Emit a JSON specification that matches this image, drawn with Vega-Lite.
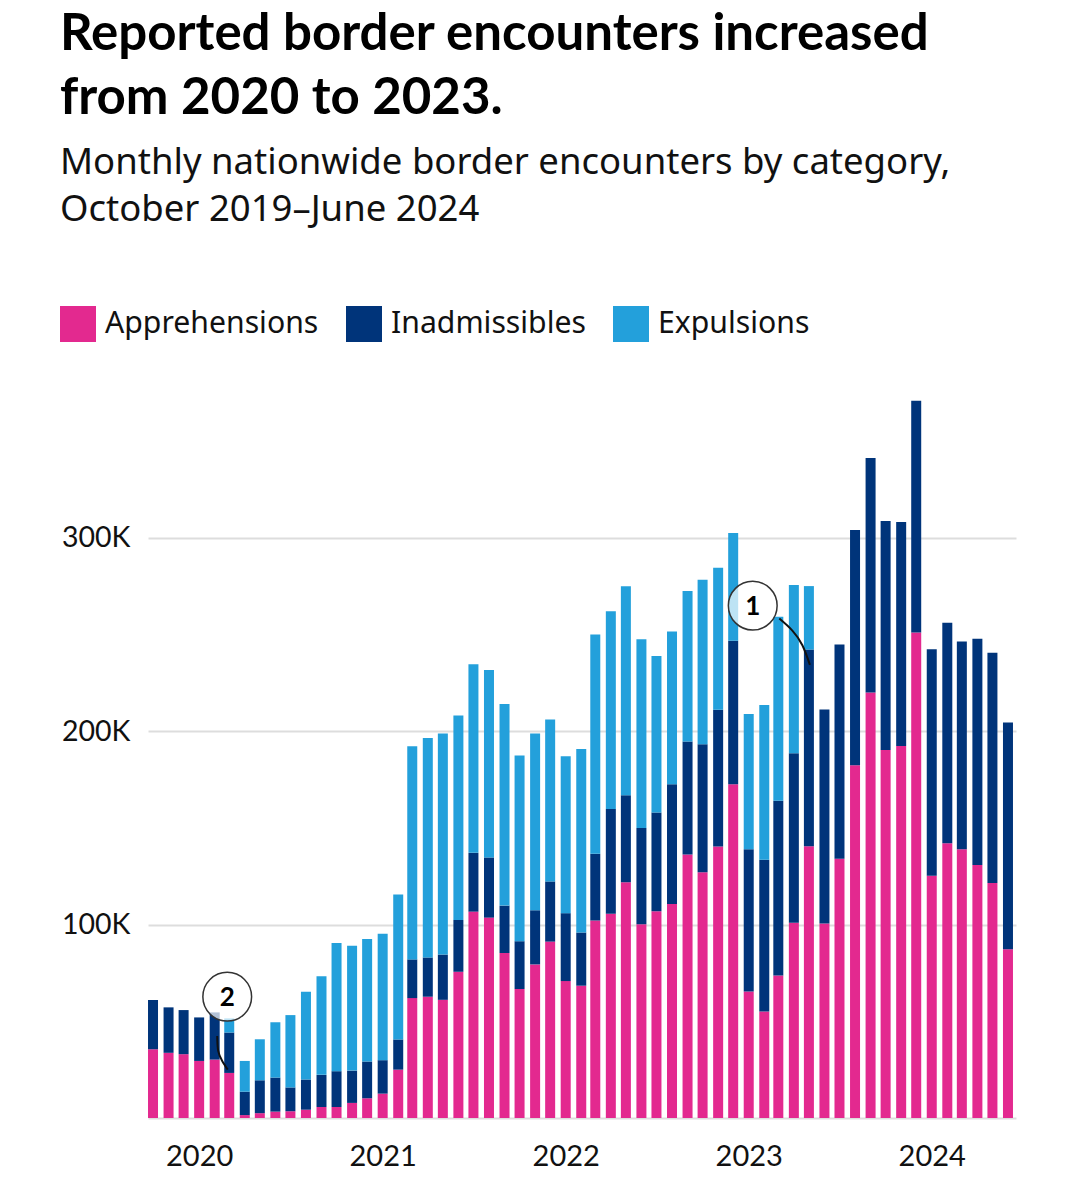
{
  "$schema": "https://vega.github.io/schema/vega-lite/v6.json",
  "width": 868,
  "height": 735,
  "padding": {"left": 60, "top": 8, "right": 10, "bottom": 10},
  "background": "white",
  "config": {
    "font": "Lato",
    "view": {"stroke": null},
    "axis": {"labelFont": "Lato", "labelColor": "#111", "title": null}
  },
  "title": {
    "text": ["Reported border encounters increased", "from 2020 to 2023."],
    "subtitle": ["Monthly nationwide border encounters by category,", "October 2019–June 2024"],
    "anchor": "start",
    "frame": "bounds",
    "font": "Lato",
    "fontSize": 51,
    "fontWeight": "bold",
    "lineHeight": 64,
    "color": "#000",
    "subtitleFont": "Noto Sans",
    "subtitleFontSize": 36.5,
    "subtitleLineHeight": 47,
    "subtitlePadding": 20,
    "subtitleColor": "#111",
    "offset": 77
  },
  "datasets": {
    "monthly": [
      {"month": "2019-10-01", "Apprehensions": 35600, "Inadmissibles": 25400, "Expulsions": 0},
      {"month": "2019-11-01", "Apprehensions": 33700, "Inadmissibles": 23500, "Expulsions": 0},
      {"month": "2019-12-01", "Apprehensions": 33000, "Inadmissibles": 22800, "Expulsions": 0},
      {"month": "2020-01-01", "Apprehensions": 29500, "Inadmissibles": 22500, "Expulsions": 0},
      {"month": "2020-02-01", "Apprehensions": 30200, "Inadmissibles": 24400, "Expulsions": 0},
      {"month": "2020-03-01", "Apprehensions": 23300, "Inadmissibles": 20900, "Expulsions": 7300},
      {"month": "2020-04-01", "Apprehensions": 1500, "Inadmissibles": 12100, "Expulsions": 15900},
      {"month": "2020-05-01", "Apprehensions": 2500, "Inadmissibles": 17000, "Expulsions": 21200},
      {"month": "2020-06-01", "Apprehensions": 3300, "Inadmissibles": 17600, "Expulsions": 28600},
      {"month": "2020-07-01", "Apprehensions": 3500, "Inadmissibles": 12300, "Expulsions": 37400},
      {"month": "2020-08-01", "Apprehensions": 4300, "Inadmissibles": 15600, "Expulsions": 45400},
      {"month": "2020-09-01", "Apprehensions": 5700, "Inadmissibles": 16600, "Expulsions": 51000},
      {"month": "2020-10-01", "Apprehensions": 5700, "Inadmissibles": 18500, "Expulsions": 66300},
      {"month": "2020-11-01", "Apprehensions": 7800, "Inadmissibles": 16700, "Expulsions": 64500},
      {"month": "2020-12-01", "Apprehensions": 10200, "Inadmissibles": 19000, "Expulsions": 63400},
      {"month": "2021-01-01", "Apprehensions": 12600, "Inadmissibles": 17300, "Expulsions": 65300},
      {"month": "2021-02-01", "Apprehensions": 25000, "Inadmissibles": 15600, "Expulsions": 74900},
      {"month": "2021-03-01", "Apprehensions": 62000, "Inadmissibles": 20000, "Expulsions": 110200},
      {"month": "2021-04-01", "Apprehensions": 62700, "Inadmissibles": 20300, "Expulsions": 113500},
      {"month": "2021-05-01", "Apprehensions": 61100, "Inadmissibles": 23400, "Expulsions": 114300},
      {"month": "2021-06-01", "Apprehensions": 75600, "Inadmissibles": 26800, "Expulsions": 105700},
      {"month": "2021-07-01", "Apprehensions": 106700, "Inadmissibles": 30400, "Expulsions": 97500},
      {"month": "2021-08-01", "Apprehensions": 103600, "Inadmissibles": 31100, "Expulsions": 96900},
      {"month": "2021-09-01", "Apprehensions": 85300, "Inadmissibles": 24500, "Expulsions": 104200},
      {"month": "2021-10-01", "Apprehensions": 66700, "Inadmissibles": 24700, "Expulsions": 96000},
      {"month": "2021-11-01", "Apprehensions": 79400, "Inadmissibles": 28000, "Expulsions": 91400},
      {"month": "2021-12-01", "Apprehensions": 91200, "Inadmissibles": 31100, "Expulsions": 83700},
      {"month": "2022-01-01", "Apprehensions": 70800, "Inadmissibles": 35100, "Expulsions": 81100},
      {"month": "2022-02-01", "Apprehensions": 68400, "Inadmissibles": 27500, "Expulsions": 94900},
      {"month": "2022-03-01", "Apprehensions": 102100, "Inadmissibles": 34500, "Expulsions": 113400},
      {"month": "2022-04-01", "Apprehensions": 105600, "Inadmissibles": 54200, "Expulsions": 102200},
      {"month": "2022-05-01", "Apprehensions": 121900, "Inadmissibles": 44900, "Expulsions": 108100},
      {"month": "2022-06-01", "Apprehensions": 100200, "Inadmissibles": 49700, "Expulsions": 97600},
      {"month": "2022-07-01", "Apprehensions": 106900, "Inadmissibles": 51000, "Expulsions": 80900},
      {"month": "2022-08-01", "Apprehensions": 110700, "Inadmissibles": 61900, "Expulsions": 78900},
      {"month": "2022-09-01", "Apprehensions": 136200, "Inadmissibles": 58400, "Expulsions": 77800},
      {"month": "2022-10-01", "Apprehensions": 127000, "Inadmissibles": 66200, "Expulsions": 85100},
      {"month": "2022-11-01", "Apprehensions": 140400, "Inadmissibles": 70700, "Expulsions": 73400},
      {"month": "2022-12-01", "Apprehensions": 172600, "Inadmissibles": 74100, "Expulsions": 55700},
      {"month": "2023-01-01", "Apprehensions": 65400, "Inadmissibles": 73600, "Expulsions": 69900},
      {"month": "2023-02-01", "Apprehensions": 55100, "Inadmissibles": 78400, "Expulsions": 80000},
      {"month": "2023-03-01", "Apprehensions": 73700, "Inadmissibles": 90300, "Expulsions": 95100},
      {"month": "2023-04-01", "Apprehensions": 101000, "Inadmissibles": 87600, "Expulsions": 87000},
      {"month": "2023-05-01", "Apprehensions": 140500, "Inadmissibles": 101700, "Expulsions": 32800},
      {"month": "2023-06-01", "Apprehensions": 100500, "Inadmissibles": 110700, "Expulsions": 0},
      {"month": "2023-07-01", "Apprehensions": 134000, "Inadmissibles": 110800, "Expulsions": 0},
      {"month": "2023-08-01", "Apprehensions": 182400, "Inadmissibles": 121600, "Expulsions": 0},
      {"month": "2023-09-01", "Apprehensions": 220000, "Inadmissibles": 121200, "Expulsions": 0},
      {"month": "2023-10-01", "Apprehensions": 190200, "Inadmissibles": 118500, "Expulsions": 0},
      {"month": "2023-11-01", "Apprehensions": 192300, "Inadmissibles": 115900, "Expulsions": 0},
      {"month": "2023-12-01", "Apprehensions": 251000, "Inadmissibles": 119800, "Expulsions": 0},
      {"month": "2024-01-01", "Apprehensions": 125300, "Inadmissibles": 117000, "Expulsions": 0},
      {"month": "2024-02-01", "Apprehensions": 142000, "Inadmissibles": 114000, "Expulsions": 0},
      {"month": "2024-03-01", "Apprehensions": 139000, "Inadmissibles": 107300, "Expulsions": 0},
      {"month": "2024-04-01", "Apprehensions": 130800, "Inadmissibles": 117000, "Expulsions": 0},
      {"month": "2024-05-01", "Apprehensions": 121500, "Inadmissibles": 119000, "Expulsions": 0},
      {"month": "2024-06-01", "Apprehensions": 87300, "Inadmissibles": 117200, "Expulsions": 0}
    ],
    "connectors": [
      {"note": "1", "date": "2023-03-03", "value": 258200},
      {"note": "1", "date": "2023-03-29", "value": 252000},
      {"note": "1", "date": "2023-04-18", "value": 244400},
      {"note": "1", "date": "2023-05-03", "value": 234300},
      {"note": "2", "date": "2020-02-06", "value": 42400},
      {"note": "2", "date": "2020-02-08", "value": 34700},
      {"note": "2", "date": "2020-02-16", "value": 29500},
      {"note": "2", "date": "2020-02-27", "value": 25000}
    ],
    "notes": [
      {"note": "1", "date": "2023-01-09", "value": 264900},
      {"note": "2", "date": "2020-02-26", "value": 62700}
    ]
  },
  "layer": [
    {
      "data": {"name": "monthly"},
      "transform": [
        {"fold": ["Apprehensions", "Inadmissibles", "Expulsions"], "as": ["category", "count"]},
        {"calculate": "indexof(['Apprehensions','Inadmissibles','Expulsions'], datum.category)", "as": "stackOrder"}
      ],
      "mark": {"type": "bar", "width": 10},
      "encoding": {
        "x": {
          "field": "month", "type": "temporal",
          "scale": {"type": "utc", "padding": 0, "domain": [{"year": 2019, "month": 9, "date": 21, "utc": true}, {"year": 2024, "month": 6, "date": 17, "utc": true}]},
          "axis": {
            "values": [
              {"year": 2020, "month": 1, "date": 1, "utc": true},
              {"year": 2021, "month": 1, "date": 1, "utc": true},
              {"year": 2022, "month": 1, "date": 1, "utc": true},
              {"year": 2023, "month": 1, "date": 1, "utc": true},
              {"year": 2024, "month": 1, "date": 1, "utc": true}
            ],
            "format": "%Y", "formatType": "utc",
            "labelFontSize": 29, "labelPadding": 24, "ticks": false, "domain": false, "grid": false
          }
        },
        "y": {
          "field": "count", "type": "quantitative", "stack": "zero",
          "scale": {"domain": [0, 380000], "nice": false},
          "axis": {
            "values": [0, 100000, 200000, 300000],
            "labelExpr": "datum.value == 0 ? '' : (datum.value / 1000) + 'K'",
            "labelFontSize": 28.5, "labelPadding": 18, "ticks": false, "domain": false,
            "grid": true, "gridColor": "#dddddd", "gridWidth": 2
          }
        },
        "color": {
          "field": "category", "type": "nominal",
          "scale": {"domain": ["Apprehensions", "Inadmissibles", "Expulsions"], "range": ["#E3298F", "#00347A", "#23A0DB"]},
          "legend": {
            "title": null, "orient": "none", "legendX": -88, "legendY": -77, "direction": "horizontal",
            "symbolType": "square", "symbolSize": 1296, "symbolStrokeWidth": 0, "symbolOpacity": 1,
            "labelFontSize": 30.2, "labelFont": "Noto Sans", "labelColor": "#111", "labelOffset": 9,
            "columnPadding": 27, "labelLimit": 400
          }
        },
        "order": {"field": "stackOrder", "type": "quantitative"}
      }
    },
    {
      "data": {"name": "connectors"},
      "mark": {"type": "line", "interpolate": "natural", "color": "#111", "strokeWidth": 2},
      "encoding": {
        "x": {"field": "date", "type": "temporal"},
        "y": {"field": "value", "type": "quantitative"},
        "detail": {"field": "note"}
      }
    },
    {
      "data": {"name": "notes"},
      "mark": {"type": "point", "shape": "circle", "size": 2376, "filled": true, "fill": "white", "fillOpacity": 0.7, "stroke": "#333", "strokeWidth": 1.5, "strokeOpacity": 1, "opacity": 1},
      "encoding": {
        "x": {"field": "date", "type": "temporal"},
        "y": {"field": "value", "type": "quantitative"}
      }
    },
    {
      "data": {"name": "notes"},
      "mark": {"type": "text", "font": "Lato", "fontSize": 26, "fontWeight": "bold", "color": "#000", "align": "center", "baseline": "middle", "dy": 1},
      "encoding": {
        "x": {"field": "date", "type": "temporal"},
        "y": {"field": "value", "type": "quantitative"},
        "text": {"field": "note"}
      }
    }
  ]
}
